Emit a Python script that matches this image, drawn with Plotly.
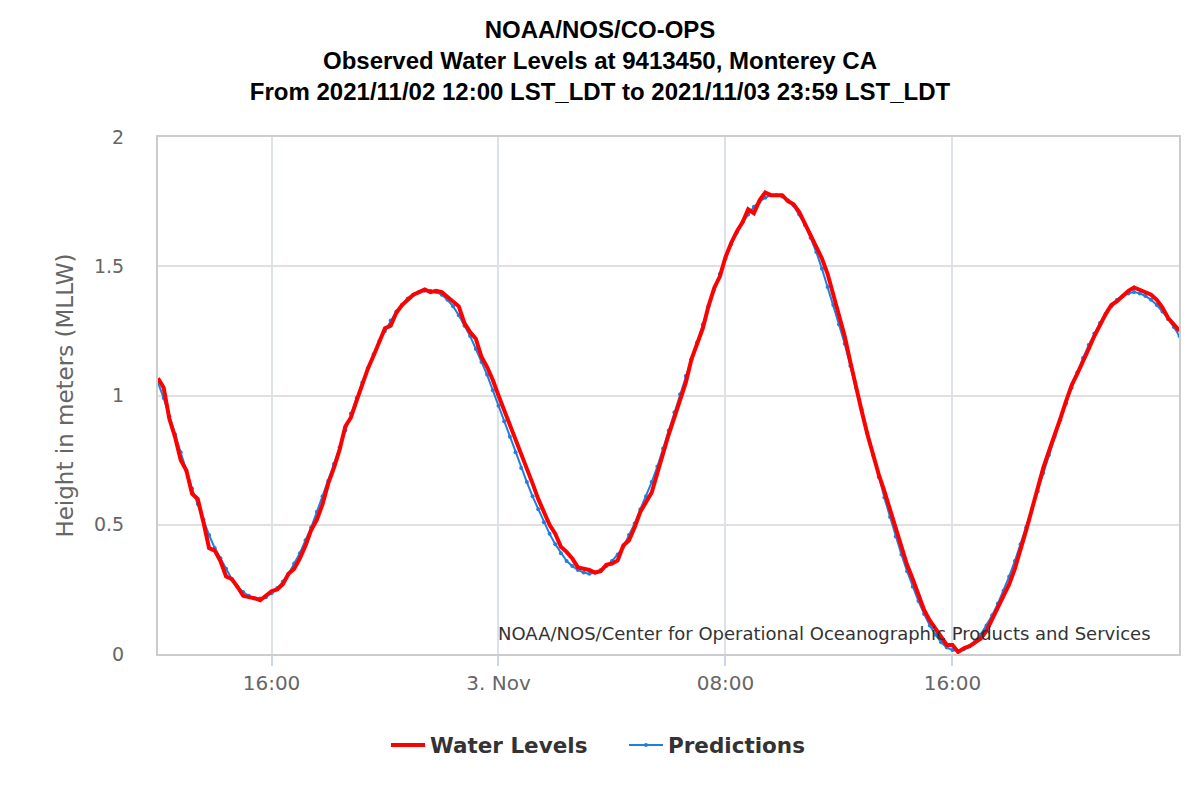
import pandas as pd
import plotly.graph_objects as go

# 12-minute samples starting 2021-11-02 12:00 (values in m, MLLW)
start_time = "2021-11-02 12:00"
step = "12min"

water_levels = [
    1.067, 1.03, 0.91, 0.84, 0.75, 0.71, 0.62, 0.60, 0.51, 0.41,
    0.40, 0.36, 0.30, 0.29, 0.26, 0.225, 0.22, 0.216, 0.208, 0.225,
    0.243, 0.25, 0.27, 0.31, 0.33, 0.37, 0.42, 0.48, 0.52, 0.58,
    0.66, 0.72, 0.79, 0.88, 0.915, 0.98, 1.045, 1.105, 1.155, 1.205,
    1.26, 1.27, 1.32, 1.35, 1.37, 1.39, 1.40, 1.41, 1.40, 1.405,
    1.40, 1.38, 1.36, 1.345, 1.28, 1.245, 1.22, 1.15, 1.11, 1.06,
    1.00, 0.945, 0.89, 0.825, 0.775, 0.72, 0.66, 0.60, 0.55, 0.50,
    0.465, 0.415, 0.395, 0.37, 0.335, 0.33, 0.325, 0.315, 0.32, 0.345,
    0.35, 0.362, 0.42, 0.44, 0.49, 0.55, 0.59, 0.625, 0.70, 0.78,
    0.85, 0.915, 0.98, 1.05, 1.14, 1.20, 1.26, 1.345, 1.415, 1.46,
    1.535, 1.59, 1.635, 1.67, 1.72, 1.705, 1.755, 1.785, 1.775, 1.775,
    1.775, 1.752, 1.74, 1.71, 1.665, 1.62, 1.57, 1.53, 1.47, 1.39,
    1.31, 1.23, 1.13, 1.03, 0.94, 0.85, 0.77, 0.695, 0.63, 0.56,
    0.49, 0.42, 0.345, 0.29, 0.23, 0.17, 0.13, 0.10, 0.07, 0.035,
    0.035, 0.008, 0.022, 0.03, 0.045, 0.06, 0.09, 0.135, 0.18, 0.22,
    0.27, 0.33, 0.40, 0.48, 0.56, 0.64, 0.72, 0.785, 0.845, 0.91,
    0.977, 1.04, 1.085, 1.13, 1.18, 1.23, 1.275, 1.315, 1.35, 1.365,
    1.385, 1.405, 1.418, 1.41, 1.40, 1.39, 1.37, 1.34, 1.30, 1.275,
    1.25,
]

predictions = [
    1.05, 0.99, 0.92, 0.85, 0.78, 0.71, 0.64, 0.58, 0.52, 0.46,
    0.41, 0.37, 0.33, 0.29, 0.26, 0.24, 0.225, 0.215, 0.215, 0.22,
    0.235, 0.255, 0.28, 0.31, 0.35, 0.39, 0.44, 0.49, 0.55, 0.61,
    0.67, 0.735, 0.80, 0.865, 0.93, 0.99, 1.05, 1.105, 1.16, 1.21,
    1.25, 1.29, 1.325, 1.35, 1.375, 1.39, 1.40, 1.405, 1.405, 1.40,
    1.39, 1.37, 1.345, 1.31, 1.27, 1.23, 1.18, 1.13, 1.08, 1.02,
    0.96, 0.90, 0.84, 0.78, 0.72, 0.665, 0.61, 0.56, 0.51, 0.465,
    0.425, 0.39, 0.36, 0.34, 0.325, 0.315, 0.31, 0.315, 0.325, 0.34,
    0.36, 0.385, 0.415, 0.46, 0.505, 0.56, 0.61, 0.665, 0.725, 0.795,
    0.865, 0.935, 1.005, 1.075, 1.14, 1.205, 1.275, 1.345, 1.41, 1.47,
    1.53, 1.585, 1.63, 1.67, 1.70, 1.73, 1.75, 1.765, 1.775, 1.775,
    1.77, 1.755, 1.735, 1.70, 1.66, 1.61, 1.555, 1.49, 1.42, 1.35,
    1.275, 1.20, 1.115, 1.03, 0.945, 0.855, 0.77, 0.685, 0.605, 0.53,
    0.455, 0.385, 0.32, 0.26, 0.205, 0.155, 0.11, 0.075, 0.045, 0.025,
    0.015, 0.012, 0.018, 0.03, 0.05, 0.075, 0.11, 0.15, 0.195, 0.245,
    0.30, 0.36, 0.425, 0.49, 0.56, 0.63, 0.70, 0.77, 0.84, 0.905,
    0.97, 1.03, 1.09, 1.145, 1.195, 1.24, 1.28, 1.315, 1.345, 1.37,
    1.385, 1.395, 1.40, 1.395, 1.385, 1.37, 1.35, 1.325, 1.295, 1.265,
    1.23,
]

tick_times = ["2021-11-02 16:00", "2021-11-03 00:00", "2021-11-03 08:00", "2021-11-03 16:00"]
tick_labels = ["16:00", "3. Nov", "08:00", "16:00"]
y_ticks = [0, 0.5, 1, 1.5, 2]
y_tick_labels = ["0", "0.5", "1", "1.5", "2"]

times = pd.date_range(start_time, periods=len(water_levels), freq=step)

title_text = ("NOAA/NOS/CO-OPS<br>Observed Water Levels at 9413450, Monterey CA<br>"
              "From 2021/11/02 12:00 LST_LDT to 2021/11/03 23:59 LST_LDT")
credit_text = "NOAA/NOS/Center for Operational Oceanographic Products and Services"

fig = go.Figure()
fig.add_trace(go.Scatter(x=times, y=predictions, name="Predictions", mode="lines+markers",
                         line=dict(color="#1f7fe0", width=2),
                         marker=dict(size=4, color="#1f7fe0")))
fig.add_trace(go.Scatter(x=times, y=water_levels, name="Water Levels", mode="lines",
                         line=dict(color="#ff0000", width=4)))

# page body has an 8px margin, so the figure is 16px smaller than the window
fig.update_layout(
    width=1184, height=784,
    paper_bgcolor="white", plot_bgcolor="white",
    margin=dict(l=150, r=11, t=129, b=138),
    title=dict(text=title_text, x=0.5, xanchor="center", y=1 - 30 / 784, yanchor="top",
               font=dict(family="Liberation Sans", size=24, color="black", weight="bold")),
    font=dict(family="DejaVu Sans", color="#666666"),
    legend=dict(orientation="h", xref="container", x=378 / 1184, xanchor="left",
                yref="container", y=1 - 737 / 784, yanchor="middle", traceorder="reversed",
                font=dict(size=21.5, color="#333333", weight="bold"),
                itemwidth=34, entrywidth=189, entrywidthmode="pixels"),
    showlegend=True,
)
fig.update_xaxes(
    range=["2021-11-02 12:00", "2021-11-03 23:59"],
    tickvals=tick_times, ticktext=tick_labels,
    tickfont=dict(size=20, color="#666666"),
    showgrid=True, gridcolor="#dde2ea", gridwidth=1.5,
    showline=True, linecolor="#cccccc", linewidth=2, mirror=True,
    ticks="outside", ticklen=10, tickcolor="#ccd6eb", tickwidth=1.5,
    zeroline=False,
)
fig.update_yaxes(
    range=[0, 2], tickvals=y_ticks, ticktext=y_tick_labels,
    tickfont=dict(size=19, color="#666666"),
    ticklabelstandoff=28,
    title=dict(text="Height in meters (MLLW)", font=dict(size=23, color="#666666"), standoff=14),
    showgrid=True, gridcolor="#e0e0e0", gridwidth=1.5,
    showline=True, linecolor="#cccccc", linewidth=2, mirror=True,
    zeroline=False,
)
fig.add_annotation(text=credit_text, xref="paper", yref="paper", x=0.975, y=0.016,
                   xanchor="right", yanchor="bottom", showarrow=False,
                   font=dict(size=18, color="#333333"))

fig.write_html("out.html")
